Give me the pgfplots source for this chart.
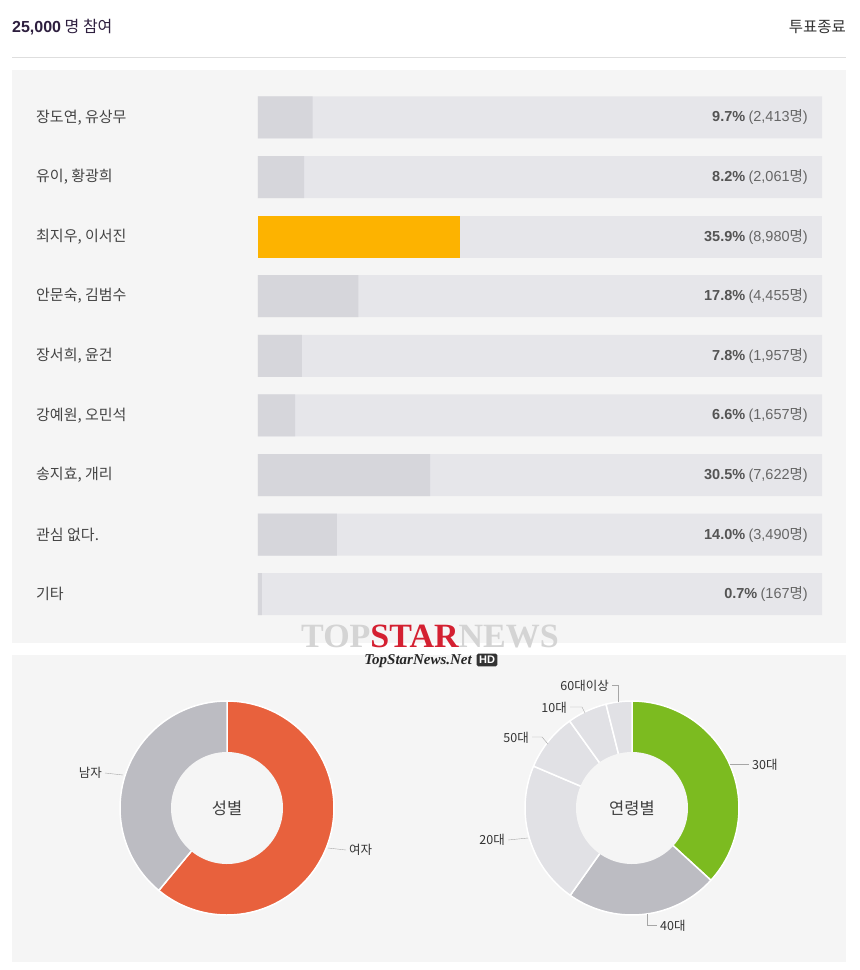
\documentclass[border=0pt]{standalone}
\usepackage{pgfplots}
\pgfplotsset{compat=1.18}
\usepackage{pgfplotstable}
\usepackage{fontspec}
\setmainfont{Noto Sans CJK KR}
\newfontfamily\lib{Liberation Sans}
\newfontfamily\libserif{Liberation Serif}
\definecolor{panel}{HTML}{F5F5F5}
\definecolor{track}{HTML}{E6E6EA}
\definecolor{barfill}{HTML}{D6D6DB}
\definecolor{gold}{HTML}{FDB300}
\definecolor{fem}{HTML}{E8613D}
\definecolor{pgray}{HTML}{BCBCC2}
\definecolor{plight}{HTML}{E1E1E5}
\definecolor{pgreen}{HTML}{7CBB20}
\definecolor{lbl}{HTML}{444444}
\definecolor{hdr}{HTML}{2E1F3F}

\pgfplotstableread{
row pct full
1 9.7 100
2 8.2 100
4 17.8 100
5 7.8 100
6 6.6 100
7 30.5 100
8 14.0 100
9 0.7 100
}\others
\pgfplotstableread{
row pct full
3 35.9 100
}\winner

% pie shares (percent)
\def\pFemale{61.0}
\def\pMale{39.0}
\def\pThirty{36.8}
\def\pForty{23.0}
\def\pTwenty{21.6}
\def\pFifty{8.7}
\def\pTen{6.0}
\def\pSixty{3.9}

\newcommand{\val}[2]{{\lib\bfseries\color{black!67}#1\%} {\color{black!60}{\lib(#2}명{\lib)}}}

\begin{document}
\begin{tikzpicture}
\path[use as bounding box, fill=white] (0pt,0pt) rectangle (860pt,-970pt);
% header
\node[anchor=west, font=\fontsize{16pt}{18pt}\selectfont, text=hdr, inner sep=0pt] at (12pt,-27pt) {{\lib\bfseries 25,000} 명 참여};
\node[anchor=east, font=\fontsize{15.5pt}{18pt}\selectfont, text=black!80, inner sep=0pt] at (846pt,-27pt) {투표종료};
\draw[black!13, line width=1pt] (12pt,-57pt) -- (846pt,-57pt);
% panels
\fill[panel] (12pt,-70pt) rectangle (846pt,-643pt);
\fill[panel] (12pt,-655pt) rectangle (846pt,-962pt);

\begin{axis}[
  at={(258pt,-87.6pt)}, anchor=north west,
  scale only axis, width=564pt, height=536.4pt,
  xmin=0, xmax=100, ymin=0.5, ymax=9.5, y dir=reverse,
  hide axis, xbar, bar width=42pt, bar shift=0pt, clip=false,
]
\addplot[fill=track, draw=none] table[x=full,y=row]{\others};
\addplot[fill=track, draw=none] table[x=full,y=row]{\winner};
\addplot[fill=barfill, draw=none] table[x=pct,y=row]{\others};
\addplot[fill=gold, draw=none] table[x=pct,y=row]{\winner};
\begin{scope}[every node/.style={anchor=west, font=\fontsize{15pt}{17pt}\selectfont, text=lbl, inner sep=0pt}]
\node at (axis cs:0,1) [xshift=-222pt] {장도연, 유상무};
\node at (axis cs:0,2) [xshift=-222pt] {유이, 황광희};
\node at (axis cs:0,3) [xshift=-222pt] {최지우, 이서진};
\node at (axis cs:0,4) [xshift=-222pt] {안문숙, 김범수};
\node at (axis cs:0,5) [xshift=-222pt] {장서희, 윤건};
\node at (axis cs:0,6) [xshift=-222pt] {강예원, 오민석};
\node at (axis cs:0,7) [xshift=-222pt] {송지효, 개리};
\node at (axis cs:0,8) [xshift=-222pt] {관심 없다.};
\node at (axis cs:0,9) [xshift=-222pt] {기타};
\end{scope}
\begin{scope}[every node/.style={anchor=east, font=\fontsize{14.5pt}{16pt}\selectfont, inner sep=0pt}]
\node at (axis cs:100,1) [xshift=-14pt] {\val{9.7}{2,413}};
\node at (axis cs:100,2) [xshift=-14pt] {\val{8.2}{2,061}};
\node at (axis cs:100,3) [xshift=-14pt] {\val{35.9}{8,980}};
\node at (axis cs:100,4) [xshift=-14pt] {\val{17.8}{4,455}};
\node at (axis cs:100,5) [xshift=-14pt] {\val{7.8}{1,957}};
\node at (axis cs:100,6) [xshift=-14pt] {\val{6.6}{1,657}};
\node at (axis cs:100,7) [xshift=-14pt] {\val{30.5}{7,622}};
\node at (axis cs:100,8) [xshift=-14pt] {\val{14.0}{3,490}};
\node at (axis cs:100,9) [xshift=-14pt] {\val{0.7}{167}};
\end{scope}
\end{axis}

% watermark
\node[font=\libserif\bfseries\fontsize{34pt}{36pt}\selectfont, inner sep=0pt] at (430pt,-636pt)
  {\textcolor{black!17}{TOP}\textcolor[HTML]{D42031}{STAR}\textcolor{black!17}{NEWS}};
\node[anchor=east, font=\libserif\bfseries\itshape\fontsize{15pt}{17pt}\selectfont, text=black!85, inner sep=0pt] at (472pt,-661pt) {TopStarNews.Net};
\node[fill=black!80, text=white, font=\lib\bfseries\fontsize{11pt}{13pt}\selectfont, inner sep=2.5pt, rounded corners=1.5pt] at (487pt,-660pt) {HD};

% gender donut
\pgfmathsetmacro\gA{90-3.6*\pFemale}
\begin{axis}[at={(227pt,-808pt)}, anchor=center, x=1pt, y=1pt,
  xmin=-112, xmax=112, ymin=-112, ymax=112, hide axis, clip=false]
\addplot[fill=fem, draw=white, line width=1.5pt, domain=\gA:90, samples=90] ({107*cos(x)},{107*sin(x)}) -- (axis cs:0,0) -- cycle;
\addplot[fill=pgray, draw=white, line width=1.5pt, domain=-270:\gA, samples=70] ({107*cos(x)},{107*sin(x)}) -- (axis cs:0,0) -- cycle;
\addplot[fill=panel, draw=none, domain=0:360, samples=120] ({56*cos(x)},{56*sin(x)}) -- cycle;
\node[font=\fontsize{16.5pt}{18pt}\selectfont, text=black!75] at (axis cs:0,0) {성별};
\draw[black!35] (axis cs:-122,35) -- (axis cs:-104,33);
\node[anchor=east, font=\fontsize{12.5pt}{14pt}\selectfont, text=black!80, inner sep=1pt] at (axis cs:-124,35) {남자};
\draw[black!35] (axis cs:101,-40) -- (axis cs:119,-42);
\node[anchor=west, font=\fontsize{12.5pt}{14pt}\selectfont, text=black!80, inner sep=1pt] at (axis cs:121,-42) {여자};
\end{axis}

% age donut
\pgfmathsetmacro\aA{90-3.6*\pThirty}
\pgfmathsetmacro\aB{\aA-3.6*\pForty}
\pgfmathsetmacro\aC{\aB-3.6*\pTwenty}
\pgfmathsetmacro\aD{\aC-3.6*\pFifty}
\pgfmathsetmacro\aE{\aD-3.6*\pTen}
\pgfmathsetmacro\aF{\aE-3.6*\pSixty}
\begin{axis}[at={(632pt,-808pt)}, anchor=center, x=1pt, y=1pt,
  xmin=-112, xmax=112, ymin=-112, ymax=112, hide axis, clip=false]
\addplot[fill=pgreen, draw=white, line width=1.5pt, domain=\aA:90, samples=60] ({107*cos(x)},{107*sin(x)}) -- (axis cs:0,0) -- cycle;
\addplot[fill=pgray, draw=white, line width=1.5pt, domain=\aB:\aA, samples=40] ({107*cos(x)},{107*sin(x)}) -- (axis cs:0,0) -- cycle;
\addplot[fill=plight, draw=white, line width=1.5pt, domain=\aC:\aB, samples=40] ({107*cos(x)},{107*sin(x)}) -- (axis cs:0,0) -- cycle;
\addplot[fill=plight, draw=white, line width=1.5pt, domain=\aD:\aC, samples=20] ({107*cos(x)},{107*sin(x)}) -- (axis cs:0,0) -- cycle;
\addplot[fill=plight, draw=white, line width=1.5pt, domain=\aE:\aD, samples=15] ({107*cos(x)},{107*sin(x)}) -- (axis cs:0,0) -- cycle;
\addplot[fill=plight, draw=white, line width=1.5pt, domain=\aF:\aE, samples=12] ({107*cos(x)},{107*sin(x)}) -- (axis cs:0,0) -- cycle;
\addplot[fill=panel, draw=none, domain=0:360, samples=120] ({56*cos(x)},{56*sin(x)}) -- cycle;
\node[font=\fontsize{16.5pt}{18pt}\selectfont, text=black!75] at (axis cs:0,0) {연령별};
\begin{scope}[every node/.style={font=\fontsize{12.5pt}{14pt}\selectfont, text=black!80, inner sep=1pt}]
\draw[black!35] (axis cs:98,44) -- (axis cs:117,44);
\node[anchor=west] at (axis cs:119,43) {30대};
\draw[black!35] (axis cs:15,-106) -- (axis cs:15,-117) -- (axis cs:25,-117);
\node[anchor=west] at (axis cs:27,-118) {40대};
\draw[black!35] (axis cs:-124,-32) -- (axis cs:-104,-30);
\node[anchor=east] at (axis cs:-126,-32) {20대};
\draw[black!35] (axis cs:-100,71) -- (axis cs:-90,71) -- (axis cs:-84,64);
\node[anchor=east] at (axis cs:-102,70) {50대};
\draw[black!35] (axis cs:-62,101) -- (axis cs:-50,101) -- (axis cs:-47,95);
\node[anchor=east] at (axis cs:-64,100) {10대};
\draw[black!35] (axis cs:-20,123) -- (axis cs:-14,123) -- (axis cs:-14,106);
\node[anchor=east] at (axis cs:-22,122) {60대이상};
\end{scope}
\end{axis}
\end{tikzpicture}
\end{document}
